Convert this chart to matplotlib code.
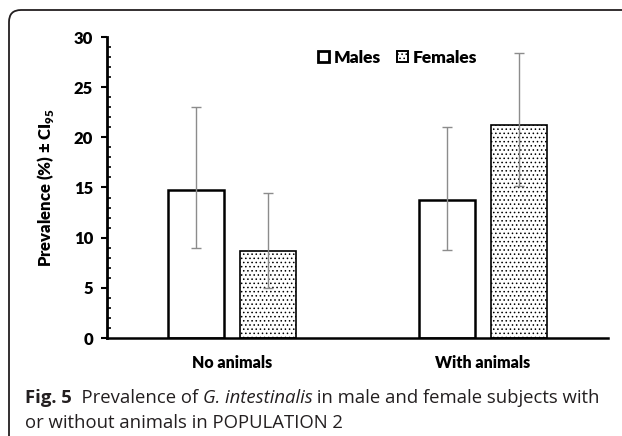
import matplotlib
matplotlib.use("Agg")
import matplotlib.pyplot as plt
import numpy as np
from matplotlib.patches import FancyBboxPatch, Patch
from matplotlib.ticker import MultipleLocator

categories = ["No animals", "With animals"]
males = [14.75, 13.8]
males_lo = [9.0, 8.8]
males_hi = [23.0, 21.0]
females = [8.65, 21.2]
females_lo = [5.0, 15.15]
females_hi = [14.5, 28.45]

plt.rcParams['font.family'] = ['Lato', 'DejaVu Sans']
plt.rcParams['mathtext.fontset'] = 'custom'
plt.rcParams['mathtext.rm'] = 'Lato:heavy'
plt.rcParams['mathtext.bf'] = 'Lato:heavy'
plt.rcParams['hatch.linewidth'] = 0.6

fig = plt.figure(figsize=(6.22, 4.36), dpi=100)
ax = fig.add_axes([107/622, 1-338/436, (608-107)/622, (338-37)/436])

x = np.arange(len(categories))
w = 0.224
off = 0.144
ecol = '#8c8c8c'
ax.bar(x - off, males, w, facecolor='white', edgecolor='black', linewidth=1.8, zorder=2)
ax.bar(x + off, females, w, facecolor='white', edgecolor='black', linewidth=1.2,
       hatch='....', zorder=2)
m = np.array(males); f = np.array(females)
ax.errorbar(x - off, m, yerr=[m - np.array(males_lo), np.array(males_hi) - m],
            fmt='none', ecolor=ecol, elinewidth=1.0, capsize=3.5, capthick=1.0, zorder=3)
ax.errorbar(x + off, f, yerr=[f - np.array(females_lo), np.array(females_hi) - f],
            fmt='none', ecolor=ecol, elinewidth=1.0, capsize=3.5, capthick=1.0, zorder=3)

ax.set_xlim(-0.5, 1.5)
ax.set_ylim(0, 30)
ax.yaxis.set_major_locator(MultipleLocator(5))
ax.yaxis.set_minor_locator(MultipleLocator(1))
ax.tick_params(axis='y', which='major', direction='out', length=4, width=1.5,
               labelsize=12, pad=6)
ax.tick_params(axis='y', which='minor', direction='in', length=3, width=1.2)
ax.tick_params(axis='x', length=0, labelsize=11.5, pad=12)
ax.set_xticks(x)
ax.set_xticklabels(categories, fontweight='heavy')
for lab in ax.get_yticklabels():
    lab.set_fontweight('heavy')
for s in ['top', 'right']:
    ax.spines[s].set_visible(False)
ax.spines['left'].set_linewidth(2)
ax.spines['bottom'].set_linewidth(1.8)
ax.set_ylabel(r'Prevalence (%) ± CI$_{95}$', fontsize=12, fontweight='heavy', labelpad=13)

handles = [Patch(facecolor='white', edgecolor='black', linewidth=2.0, label='Males'),
           Patch(facecolor='white', edgecolor='black', linewidth=1.4, hatch='....', label='Females')]
leg = ax.legend(handles=handles, loc='upper left', bbox_to_anchor=(0.39, 1.01), ncol=2,
                frameon=False, handlelength=0.62, handleheight=0.62, handletextpad=0.3,
                columnspacing=0.9, prop={'weight': 'heavy', 'size': 12.5})

# frame
frame = FancyBboxPatch((9, -40), 700, 436 - 10 + 40, boxstyle="round,pad=0,rounding_size=12",
                       transform=None, facecolor='none', edgecolor='#231f20', linewidth=1.3)
fig.add_artist(frame)

# caption
fig.canvas.draw()
r = fig.canvas.get_renderer()
cap_font = ['Open Sans', 'DejaVu Sans']
pieces = [("Fig. 5", 'bold', 'normal'), ("  Prevalence of ", 'normal', 'normal'),
          ("G. intestinalis", 'normal', 'italic'),
          (" in male and female subjects with", 'normal', 'normal')]
xpos = 25
y1 = 436 - 403
for txt, wt, st in pieces:
    t = fig.text(xpos / 622, y1 / 436, txt, family=cap_font, fontsize=13.3, fontweight=wt,
                 style=st, color='#231f20', va='baseline', ha='left')
    bb = t.get_window_extent(r)
    xpos = bb.x1
fig.text(25 / 622, (436 - 428) / 436, "or without animals in POPULATION 2", family=cap_font,
         fontsize=13.3, color='#231f20', va='baseline', ha='left')

fig.savefig('out.png', dpi=100)
